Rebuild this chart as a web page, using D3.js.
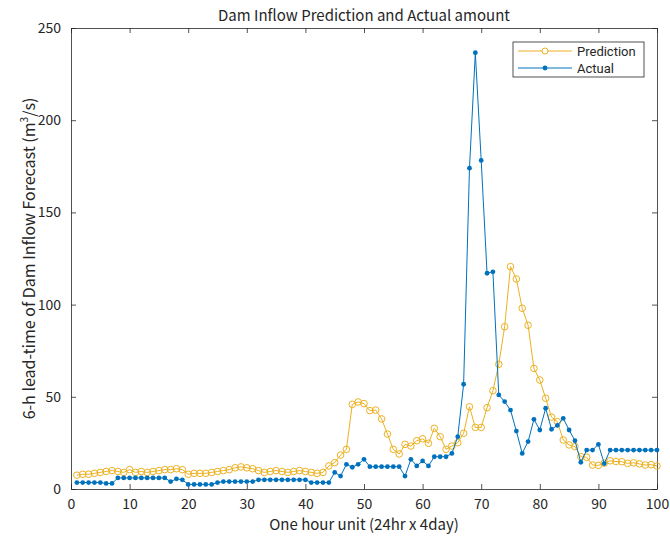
<!DOCTYPE html>
<html>
<head>
<meta charset="utf-8">
<script src="https://cdn.jsdelivr.net/npm/d3@7"></script>
<style>
  html, body { margin: 0; padding: 0; background: #fff; }
  text { font-family: "Noto Sans CJK JP", "Noto Sans", sans-serif; fill: #262626; }
</style>
</head>
<body>
<svg id="chart" width="670" height="538"></svg>
<script>
// Hourly inflow (m^3/s), hours 1..100
const hours = d3.range(1, 101);
const prediction = [
  7.5, 8, 8, 8.5, 9, 9.5, 10, 9.5, 9, 10.5,
  9, 9.5, 9, 9.5, 10, 10.5, 10.5, 11, 10.5, 8,
  8.5, 8.5, 8.5, 9, 9.5, 10, 10.5, 11.5, 12, 11.5,
  11, 10, 9, 9.5, 10, 9.5, 9, 9.5, 10, 9.5,
  9, 8.5, 9, 12.5, 14.3, 18.4, 21.5, 45.9, 47.2, 46.3,
  42.5, 42.8, 38, 29.8, 21.5, 19, 24.2, 23.3, 26.2, 27.2,
  24.8, 32.9, 28.4, 21.5, 23.3, 25.1, 30.2, 44.6, 33.4, 33.4,
  44.1, 53.3, 67.6, 88, 120.6, 113.9, 98, 88.8, 65.4, 59.1,
  49.2, 39, 36.5, 26.6, 23.9, 23, 17.5, 17.2, 13, 12.8,
  14, 15.3, 14.9, 14.8, 13.9, 14.2, 13.6, 13, 13.2, 12.5
];
const actual = [
  3.5, 3.5, 3.5, 3.5, 3.5, 3, 3, 6, 6, 6,
  6, 6, 6, 6, 6, 6, 4, 5.5, 5, 2.5,
  2.5, 2.5, 2.5, 2.5, 3.5, 4, 4, 4, 4, 4,
  4, 5, 5, 5, 5, 5, 5, 5, 5, 5,
  3.5, 3.5, 3.5, 3.5, 9, 7, 13.4, 11.8, 13.4, 16.1,
  12.1, 12.1, 12.1, 12.1, 12.1, 12.1, 7, 16.1, 12.5, 15.2,
  12.5, 17.5, 17.5, 17.5, 19.3, 28.4, 56.8, 174, 236.6, 178.2,
  117, 117.8, 51, 47.4, 42.8, 31.4, 19.3, 25.7, 37.8, 32,
  43.8, 32.4, 34.5, 38.3, 32, 26.2, 14.5, 21.1, 21.1, 24.2,
  13.8, 21.1, 21.1, 21.1, 21.1, 21.1, 21.1, 21.1, 21.1, 21.1
];
const xTicks = d3.range(0, 101, 10);
const yTicks = d3.range(0, 251, 50);
const seriesNames = ["Prediction", "Actual"];

const colPred = "#EDB120";
const colAct = "#0072BD";
const axisCol = "#262626";

const svg = d3.select("#chart");
const m = { left: 71, right: 657, top: 28, bottom: 489 };

const x = d3.scaleLinear().domain([0, 100]).range([m.left, m.right]);
const y = d3.scaleLinear().domain([0, 250]).range([m.bottom, m.top]);

// axes (ticks point inward, box on all sides)
const tl = 5;
const gx = svg.append("g").attr("transform", `translate(0,${m.bottom})`)
  .call(d3.axisBottom(x).tickValues(xTicks).tickSizeInner(-tl).tickSizeOuter(0).tickPadding(10));
const gxTop = svg.append("g").attr("transform", `translate(0,${m.top})`)
  .call(d3.axisTop(x).tickValues(xTicks).tickSizeInner(-tl).tickSizeOuter(0).tickFormat(""));
const gy = svg.append("g").attr("transform", `translate(${m.left},0)`)
  .call(d3.axisLeft(y).tickValues(yTicks).tickSizeInner(-tl).tickSizeOuter(0).tickPadding(10));
const gyR = svg.append("g").attr("transform", `translate(${m.right},0)`)
  .call(d3.axisRight(y).tickValues(yTicks).tickSizeInner(-tl).tickSizeOuter(0).tickFormat(""));
[gx, gxTop, gy, gyR].forEach(g => {
  g.selectAll(".domain").attr("stroke", axisCol).attr("stroke-width", 0.8);
  g.selectAll(".tick line").attr("stroke", axisCol).attr("stroke-width", 0.8);
  g.selectAll(".tick text").attr("font-size", 14).attr("fill", axisCol)
    .style("font-family", "'Noto Sans CJK JP', sans-serif");
});

// series
const line = d3.line().x((d, i) => x(hours[i])).y(d => y(d));
const plot = svg.append("g");
plot.append("path").datum(prediction).attr("d", line)
  .attr("fill", "none").attr("stroke", colPred).attr("stroke-width", 1);
plot.selectAll("circle.pred").data(prediction).join("circle").attr("class", "pred")
  .attr("cx", (d, i) => x(hours[i])).attr("cy", d => y(d)).attr("r", 3.3)
  .attr("fill", "none").attr("stroke", colPred).attr("stroke-width", 1);
plot.append("path").datum(actual).attr("d", line)
  .attr("fill", "none").attr("stroke", colAct).attr("stroke-width", 1);
plot.selectAll("circle.act").data(actual).join("circle").attr("class", "act")
  .attr("cx", (d, i) => x(hours[i])).attr("cy", d => y(d)).attr("r", 2.4)
  .attr("fill", colAct).attr("stroke", "none");

// titles
svg.append("text").attr("x", (m.left + m.right) / 2).attr("y", 21)
  .attr("text-anchor", "middle").attr("font-size", 15)
  .text("Dam Inflow Prediction and Actual amount");
svg.append("text").attr("x", (m.left + m.right) / 2).attr("y", 530)
  .attr("text-anchor", "middle").attr("font-size", 15)
  .text("One hour unit (24hr x 4day)");
const yl = svg.append("text")
  .attr("transform", `translate(35,${(m.top + m.bottom) / 2}) rotate(-90)`)
  .attr("text-anchor", "middle").attr("font-size", 16);
yl.append("tspan").text("6-h lead-time of Dam Inflow Forecast (m");
yl.append("tspan").attr("baseline-shift", "super").attr("font-size", 10).text("3");
yl.append("tspan").text("/s)");

// legend
const lg = svg.append("g");
lg.append("rect").attr("x", 513).attr("y", 42).attr("width", 131).attr("height", 35)
  .attr("fill", "#fff").attr("stroke", axisCol).attr("stroke-width", 0.8);
const legendItems = [
  { name: seriesNames[0], color: colPred, y: 51, open: true },
  { name: seriesNames[1], color: colAct, y: 68, open: false }
];
legendItems.forEach(it => {
  lg.append("line").attr("x1", 518).attr("x2", 572).attr("y1", it.y).attr("y2", it.y)
    .attr("stroke", it.color).attr("stroke-width", 1);
  lg.append("circle").attr("cx", 545).attr("cy", it.y).attr("r", it.open ? 3 : 2.4)
    .attr("fill", it.open ? "#fff" : it.color).attr("stroke", it.open ? it.color : "none");
  lg.append("text").attr("x", 577).attr("y", it.y + 4.5).attr("font-size", 13)
    .style("font-family", "Roboto, 'Noto Sans', sans-serif").text(it.name);
});
</script>
</body>
</html>
